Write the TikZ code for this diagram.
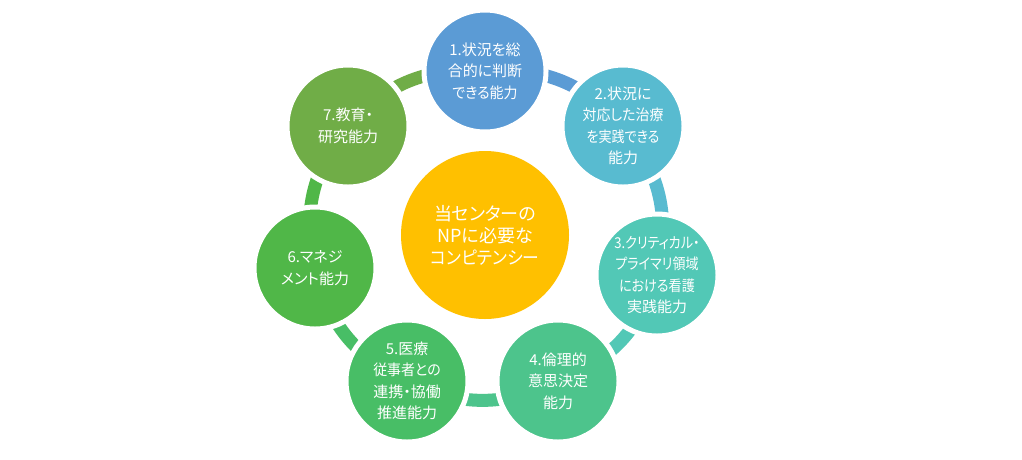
\documentclass[tikz,border=0pt]{standalone}
\usepackage{fontspec}
\usepackage{graphicx}
\setmainfont{Noto Sans CJK JP}[RawFeature=+palt]
\usetikzlibrary{backgrounds}
\newcommand\narA[1]{\scalebox{0.87}[1]{#1}}
\newcommand\narB[1]{\scalebox{0.93}[1]{#1}}
\definecolor{cA}{HTML}{5B9BD5}
\definecolor{cB}{HTML}{58BBD0}
\definecolor{cC}{HTML}{52C8B6}
\definecolor{cD}{HTML}{4DC48C}
\definecolor{cE}{HTML}{48BE66}
\definecolor{cF}{HTML}{50B748}
\definecolor{cG}{HTML}{70AD47}
\definecolor{cCenter}{HTML}{FFC000}
\begin{document}
\begin{tikzpicture}[x=1pt,y=-1pt,
  outer/.style={circle, fill=#1, draw=white, line width=5pt, minimum size=122pt,
    inner sep=0pt, text=white, align=center, font=\fontsize{15}{21.5}\selectfont},
  hub/.style={circle, fill=cCenter, minimum size=168pt, inner sep=0pt, text=white,
    align=center, font=\fontsize{18}{22}\selectfont},
  ring/.style={draw=#1, line width=13pt}]
\useasboundingbox (0,0) rectangle (1022,459);
\node[hub] (c) at (485,235) {当センターの\\NPに必要な\\\narB{コンピテンシー}};
\node[outer=cA] (n1) at (485,71) {1.状況を総\\合的に判断\\\narB{できる能力}};
\node[outer=cB] (n2) at (623,126) {2.状況に\\\narB{対応した治療}\\\narA{を実践できる}\\能力};
\node[outer=cC] (n3) at (657,275) {\narA{3.クリティカル・}\\\narA{プライマリ領域}\\\narA{における看護}\\実践能力};
\node[outer=cD] (n4) at (558,381) {4.倫理的\\意思決定\\能力};
\node[outer=cE] (n5) at (407,381) {5.医療\\\narB{従事者との}\\連携・協働\\推進能力};
\node[outer=cF] (n6) at (315,268) {6.マネジ\\メント能力};
\node[outer=cG] (n7) at (348,126) {7.教育・\\研究能力};
\begin{scope}[on background layer]
\fill[white] (0,0) rectangle (1022,459);
\draw[ring=cA] (n1.center) to[bend left=26] (n2.center);
\draw[ring=cB] (n2.center) to[bend left=26] (n3.center);
\draw[ring=cC] (n3.center) to[bend left=26] (n4.center);
\draw[ring=cD] (n4.center) to[bend left=26] (n5.center);
\draw[ring=cE] (n5.center) to[bend left=26] (n6.center);
\draw[ring=cF] (n6.center) to[bend left=26] (n7.center);
\draw[ring=cG] (n7.center) to[bend left=26] (n1.center);
\end{scope}
\end{tikzpicture}
\end{document}
